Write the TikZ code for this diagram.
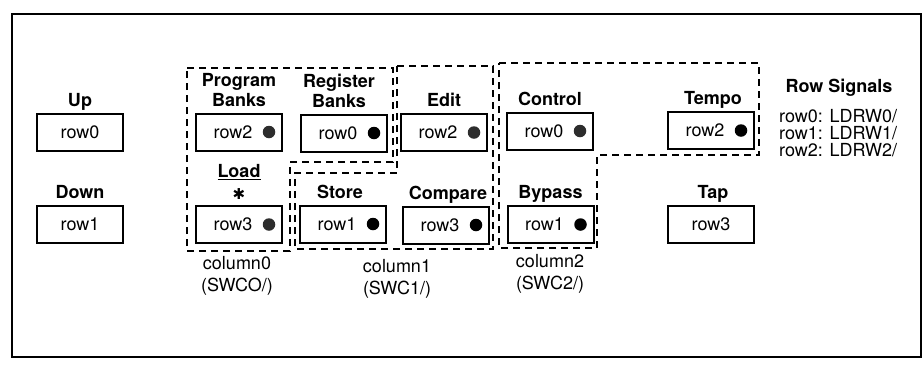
\documentclass[tikz,border=0pt]{standalone}
\usepackage{fontspec}
\setmainfont{TeX Gyre Heros}
\newfontfamily\symfont{DejaVu Sans}
\usepackage{tikz}
\usetikzlibrary{positioning,calc}
\definecolor{LedDim}{RGB}{45,45,45}
\tikzset{
    keybox/.style={draw, line width=2pt, minimum width=86pt, minimum height=37pt, inner sep=0pt, font=\fontsize{18}{20}\selectfont},
    ledbox/.style={keybox, execute at end node={\hspace{12pt}}},
    led/.style={circle, fill=black, inner sep=0pt, minimum size=12.5pt},
    leddim/.style={led, fill=LedDim},
    keylbl/.style={anchor=south, align=center, inner sep=0pt, text depth=0pt, font=\bfseries\fontsize{18}{20}\selectfont},
    starmark/.style={inner sep=0pt, font=\symfont\fontsize{15}{15}\selectfont},
    collbl/.style={anchor=north, align=center, inner sep=0pt, font=\fontsize{18}{22}\selectfont},
    siglist/.style={anchor=north west, align=left, inner sep=0pt, font=\fontsize{18}{17}\selectfont},
    grpline/.style={line width=1.8pt, dash pattern=on 7pt off 5pt},
    frameline/.style={line width=2.5pt},
}

\begin{document}
\begin{tikzpicture}[x=1pt, y=-1pt]
\useasboundingbox (0,0) rectangle (924,365);
\draw[frameline] (12,14) rectangle (921,357);

\node[keybox] (up) at (80,132) {row0};
\node[keybox] (down) at (80,224) {row1};
\node[ledbox] (pb) at (239,132) {row2};
\node[ledbox] (ld) at (239,224.5) {row3};
\node[ledbox] (rb) at (344,133) {row0};
\node[ledbox] (ed) at (444,132.5) {row2};
\node[ledbox] (st) at (343,224) {row1};
\node[ledbox] (cp) at (446,225) {row3};
\node[ledbox] (ct) at (550,131) {row0};
\node[ledbox] (tp) at (711,130.5) {row2};
\node[ledbox] (bp) at (550.5,224.5) {row1};
\node[keybox] (tap) at (711,224) {row3};

\foreach \k in {pb,ld,ed,ct}
    \node[leddim] (\k-led) at ([xshift=-14pt]\k.east) {};
\foreach \k in {rb,st,cp,tp,bp}
    \node[led] (\k-led) at ([xshift=-14pt]\k.east) {};

\node[keylbl, above=6pt of up] (uplbl) {Up};
\node[keylbl, above=6pt of down] (downlbl) {Down};
\node[keylbl, above=6pt of pb] (pblbl) {Program\\Banks};
\node[keylbl, above=6pt of rb, xshift=-5pt] (rblbl) {Register\\Banks};
\node[keylbl, above=6pt of ed] (edlbl) {Edit};
\node[keylbl, above=6pt of ct] (ctlbl) {Control};
\node[keylbl, above=6pt of tp, xshift=2pt] (tplbl) {Tempo};
\node[keylbl, above=27pt of ld] (ldlbl) {\underline{Load}};
\node[starmark] (ldstar) at (239,194) {✱};
\node[keylbl, above=6pt of st, xshift=-3pt] (stlbl) {Store};
\node[keylbl, above=6pt of cp, xshift=2pt] (cplbl) {Compare};
\node[keylbl, above=6pt of bp] (bplbl) {Bypass};
\node[keylbl, above=6pt of tap, xshift=2pt] (taplbl) {Tap};

\draw[grpline] (187,68) -- (393,68) -- (393,162) -- (290,162) -- (290,251) -- (187,251) -- cycle;
\draw[grpline] (397,66) -- (493,66) -- (493,249) -- (295,249) -- (295,173) -- (397,173) -- cycle;
\draw[grpline] (499,63) -- (759,63) -- (759,155) -- (597,155) -- (597,248) -- (499,248) -- cycle;

\node[collbl] (col0) at (237,256) {column0\\(SWCO/)};
\node[collbl] (col1) at (397,259) {column1\\(SWC1/)};
\node[collbl] (col2) at (550,254) {column2\\(SWC2/)};

\node[keylbl, anchor=base] (sigtitle) at (839,92.5) {Row Signals};
\node[siglist] (sigs) at (779,109) {row0: LDRW0/\\row1: LDRW1/\\row2: LDRW2/};
\end{tikzpicture}
\end{document}
